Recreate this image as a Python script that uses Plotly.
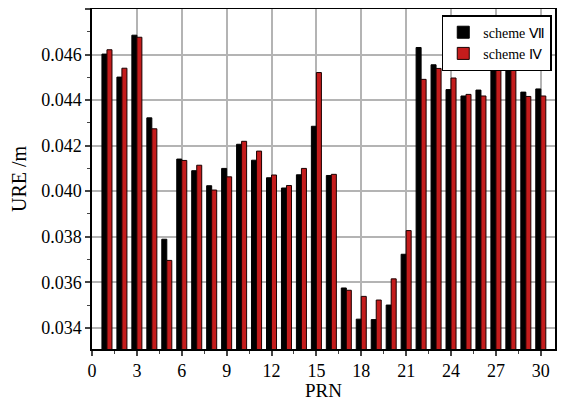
import plotly.graph_objects as go

# PRN 1..30
prn = list(range(1, 31))

# scheme VII (barras pretas)
ure_vii = [0.04602, 0.04501, 0.04685, 0.04322, 0.03789, 0.04141, 0.04090, 0.04024, 0.04100, 0.04206,
           0.04136, 0.04059, 0.04014, 0.04072, 0.04285, 0.04069, 0.03575, 0.03438, 0.03436, 0.03500,
           0.03723, 0.04631, 0.04555, 0.04446, 0.04418, 0.04444, 0.04577, 0.04577, 0.04435, 0.04449]

# scheme IV (barras vermelhas)
ure_iv = [0.04621, 0.04540, 0.04676, 0.04274, 0.03696, 0.04135, 0.04114, 0.04005, 0.04063, 0.04219,
          0.04176, 0.04071, 0.04025, 0.04100, 0.04521, 0.04074, 0.03565, 0.03538, 0.03522, 0.03615,
          0.03827, 0.04491, 0.04539, 0.04497, 0.04425, 0.04418, 0.04555, 0.04620, 0.04416, 0.04418]

x_ticks = [0, 3, 6, 9, 12, 15, 18, 21, 24, 27, 30]
y_ticks = [0.034, 0.036, 0.038, 0.040, 0.042, 0.044, 0.046, 0.048]

fonte = 'Times New Roman'

fig = go.Figure()
fig.add_trace(go.Bar(x=prn, y=ure_vii, name='scheme Ⅶ', marker_color='#000000',
                     marker_line=dict(color='#000000', width=1)))
fig.add_trace(go.Bar(x=prn, y=ure_iv, name='scheme Ⅳ', marker_color='#c41c1c',
                     marker_line=dict(color='#1a0000', width=1)))

# a página tem margem de 8px no body, por isso width/height menores
fig.update_layout(
    width=574, height=392,
    margin=dict(l=84, r=27, t=1, b=51),
    paper_bgcolor='white', plot_bgcolor='white',
    barmode='group', bargap=0.33, bargroupgap=0,
    font=dict(family=fonte, size=18, color='black'),
    legend=dict(x=0.993, y=0.982, xanchor='right', yanchor='top',
                bgcolor='white', bordercolor='black', borderwidth=1.5,
                font=dict(family=fonte, size=14), tracegroupgap=0, itemwidth=30),
    xaxis=dict(range=[0, 30.95], tickvals=x_ticks, ticks='outside', ticklen=5, tickwidth=1.5,
               minor=dict(dtick=1.5, tick0=0, ticks='outside', ticklen=3, tickwidth=1.2, showgrid=False),
               showgrid=True, gridcolor='#b4b4b4', gridwidth=1.5,
               showline=True, linecolor='black', linewidth=1.5, mirror=True, automargin=False,
               tickfont=dict(family=fonte, size=18)),
    yaxis=dict(range=[0.03307, 0.048], tickvals=y_ticks, tickformat='.3f',
               ticks='outside', ticklen=5, tickwidth=1.5,
               minor=dict(dtick=0.001, tick0=0.034, ticks='outside', ticklen=3, tickwidth=1.2, showgrid=False),
               showgrid=True, gridcolor='#b4b4b4', gridwidth=1.5,
               showline=True, linecolor='black', linewidth=1.5, mirror=True, automargin=False,
               title=dict(text='URE /m', font=dict(family=fonte, size=20)),
               tickfont=dict(family=fonte, size=18)),
)

# título do eixo x como anotação, para controlar a posição
fig.add_annotation(text='PRN', xref='paper', yref='paper', x=0.5, y=-0.123,
                   xanchor='center', yanchor='middle', showarrow=False,
                   font=dict(family=fonte, size=19))

fig.write_html("out.html")
